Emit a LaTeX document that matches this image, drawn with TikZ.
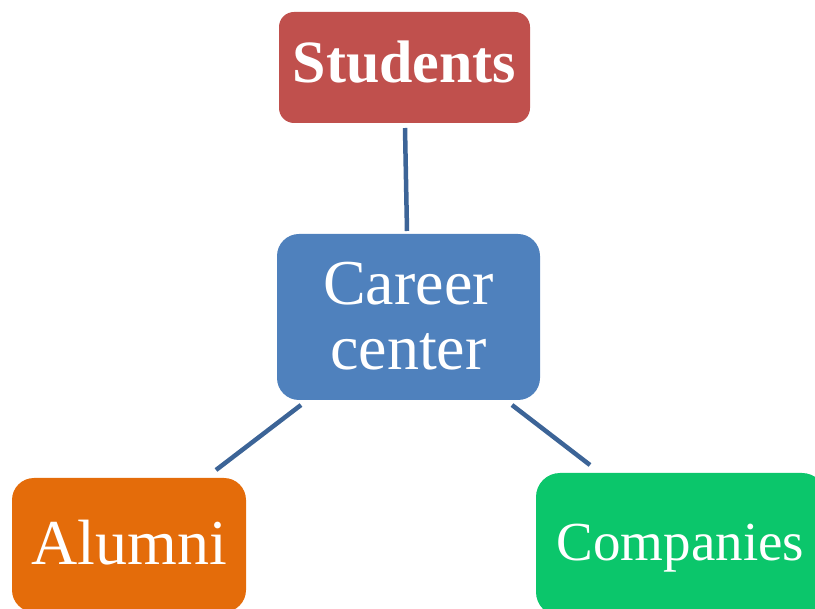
\documentclass[tikz,border=0pt]{standalone}
\usepackage{fontspec}
\setmainfont{Liberation Serif}
\usetikzlibrary{calc}
\definecolor{stured}{HTML}{C0504D}
\definecolor{carblue}{HTML}{4F81BD}
\definecolor{aluorange}{HTML}{E46C0A}
\definecolor{comgreen}{HTML}{0BC66B}
\definecolor{linkblue}{HTML}{3C6497}
\begin{document}
\begin{tikzpicture}[x=1pt,y=-1pt,
  box/.style={rectangle, inner sep=0pt, outer sep=0pt},
  lbl/.style={text=white, inner sep=0pt, outer sep=0pt, anchor=base},
  link/.style={draw=linkblue, line width=4.5pt}]
\useasboundingbox (0,0) rectangle (815,609);
\clip (0,0) rectangle (815,609);
% boxes
\node[box, fill=stured, rounded corners=15pt, minimum width=251pt, minimum height=111pt] (stu) at (404.5,67.5) {};
\node[box, fill=carblue, rounded corners=22pt, minimum width=263pt, minimum height=166pt] (car) at (408.5,317) {};
\node[box, fill=aluorange, rounded corners=22pt, minimum width=234pt, minimum height=134pt] (alu) at (129,545) {};
\node[box, fill=comgreen, rounded corners=24pt, minimum width=290pt, minimum height=143pt] (com) at (681,544.5) {};
% connectors
\draw[link] ($(stu.south)+(0.5,5)$) -- ($(car.north)+(-1.5,-3)$);
\draw[link] ($(car.south west)+(24,5)$) -- ($(alu.north east)+(-30,-8)$);
\draw[link] ($(car.south east)+(-28,5)$) -- ($(com.north west)+(54,-8)$);
% labels
\node[lbl, font=\fontsize{60}{72}\selectfont\bfseries] (stut) at (404.5,83) {Students};
\node[lbl, align=center, font=\fontsize{64}{65}\selectfont] (cart) at (408.5,370) {Career\\center};
\node[lbl, font=\fontsize{64}{72}\selectfont] (alut) at (129.5,565) {Alumni};
\node[lbl, font=\fontsize{55}{66}\selectfont] (comt) at (680.5,561) {Companies};
\end{tikzpicture}
\end{document}
